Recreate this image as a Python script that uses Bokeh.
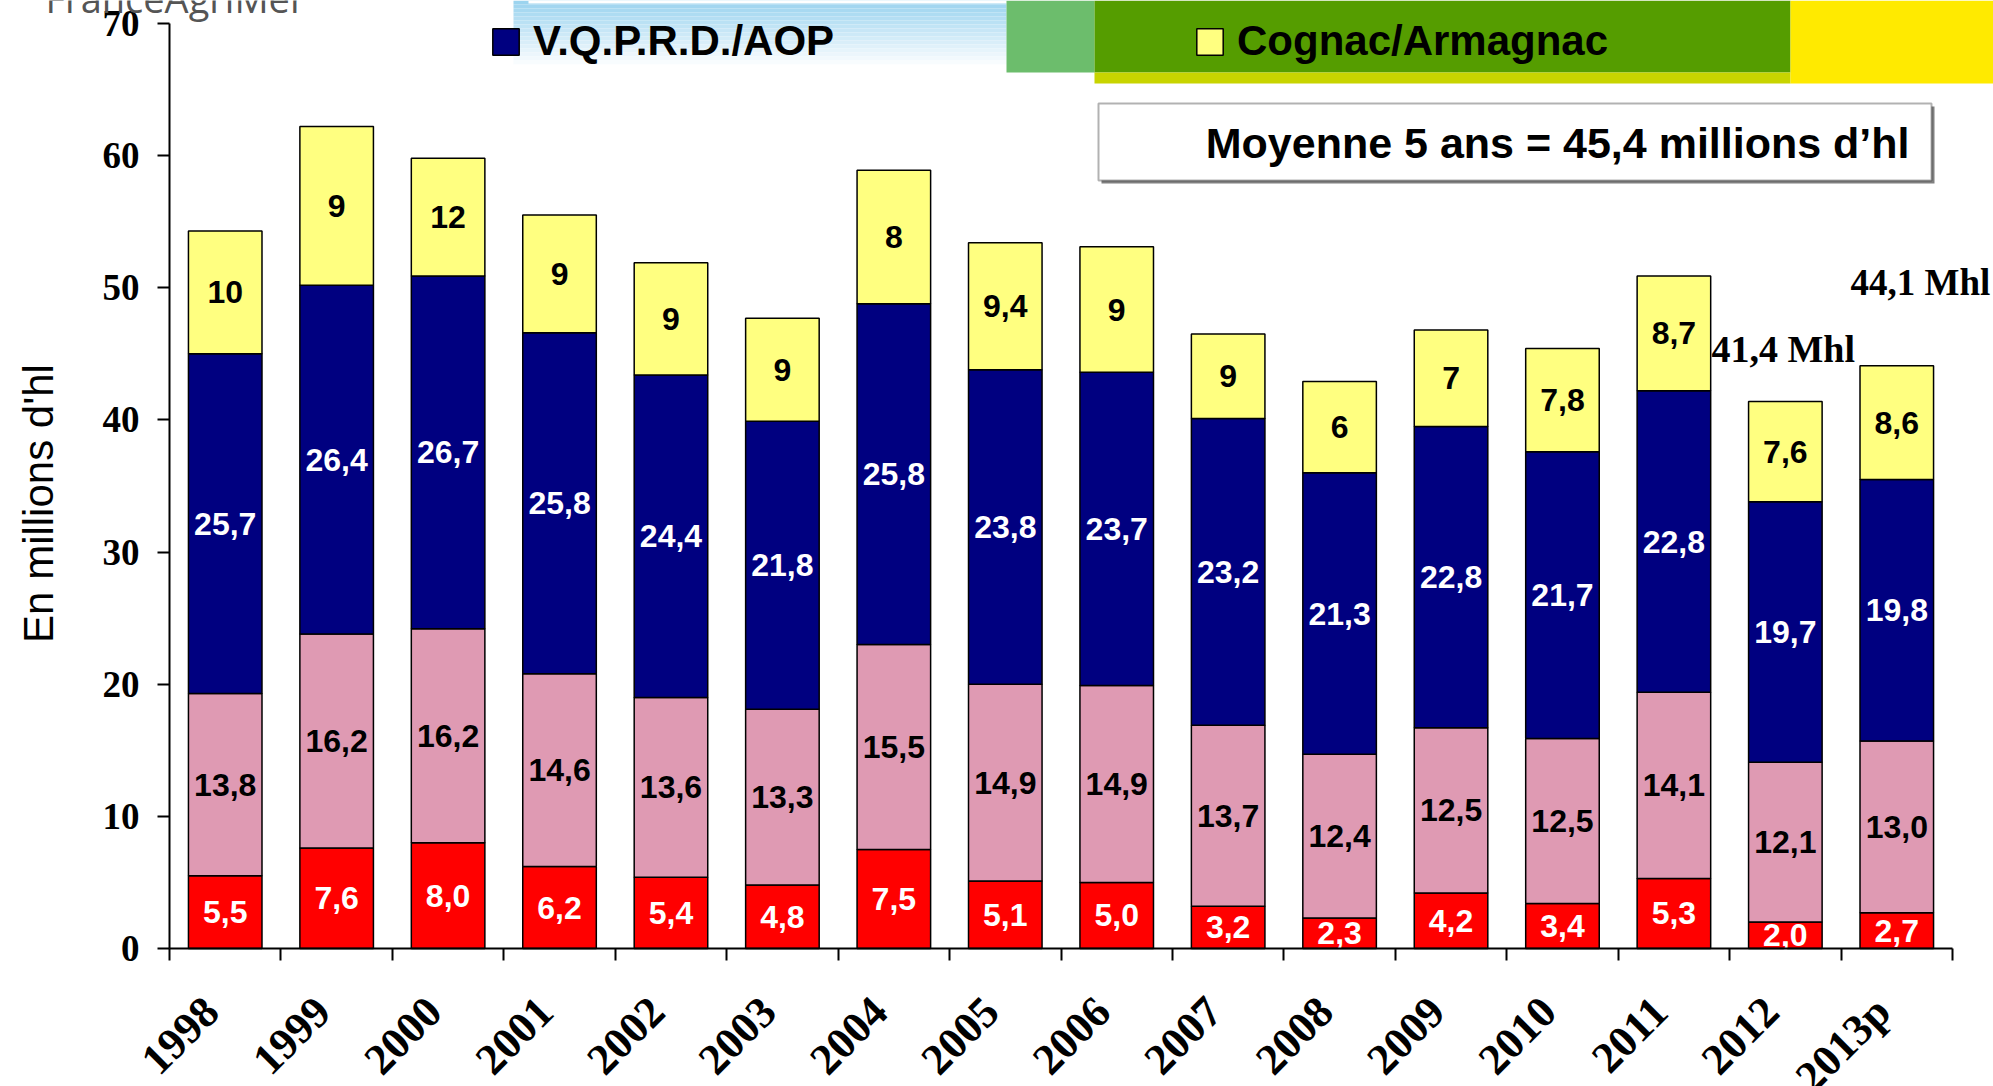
import numpy as np
from bokeh.plotting import figure
from bokeh.models import (ColumnDataSource, Range1d, FixedTicker, Legend, LegendItem,
                          Label, BoxAnnotation)
from bokeh.embed import file_html
from bokeh.resources import INLINE
from bokeh.core.properties import value

# ---------------- data (millions d'hl) ----------------
years = ["1998", "1999", "2000", "2001", "2002", "2003", "2004", "2005",
         "2006", "2007", "2008", "2009", "2010", "2011", "2012", "2013p"]
vins_sans_ig = [5.5, 7.6, 8.0, 6.2, 5.4, 4.8, 7.5, 5.1, 5.0, 3.2, 2.3, 4.2, 3.4, 5.3, 2.0, 2.7]
vins_de_pays = [13.8, 16.2, 16.2, 14.6, 13.6, 13.3, 15.5, 14.9, 14.9, 13.7, 12.4, 12.5, 12.5, 14.1, 12.1, 13.0]
vqprd_aop = [25.7, 26.4, 26.7, 25.8, 24.4, 21.8, 25.8, 23.8, 23.7, 23.2, 21.3, 22.8, 21.7, 22.8, 19.7, 19.8]
cognac_armagnac = [9.3, 12.0, 8.9, 8.9, 8.5, 7.8, 10.1, 9.6, 9.5, 6.4, 6.9, 7.3, 7.8, 8.7, 7.6, 8.6]
cognac_labels = ["10", "9", "12", "9", "9", "9", "8", "9,4", "9", "9", "6", "7", "7,8", "8,7", "7,6", "8,6"]
y_ticks = [0, 10, 20, 30, 40, 50, 60, 70]
total_2012 = "41,4 Mhl"
total_2013 = "44,1 Mhl"
moyenne = "Moyenne 5 ans = 45,4 millions d\u2019hl"
y_title = "En millions d'hl"

# ---------------- layout (canvas pixels) ----------------
W, H = 1993, 1086                 # canvas size
AX_L, AX_R, AX_T, AX_B = 169, 1952, 23, 948   # where the axes sit on the canvas
N = len(years)
YMAX = 70
PX_X = (AX_R - AX_L) / N
PX_Y = (AX_B - AX_T) / YMAX


def ux(px):
    return (px - AX_L) / PX_X


def vy(py):
    return (AX_B - py) / PX_Y


def fmt(v):
    return f"{v:.1f}".replace(".", ",")


red = np.array(vins_sans_ig)
pink = np.array(vins_de_pays)
navy = np.array(vqprd_aop)
yel = np.array(cognac_armagnac)
b1 = red
b2 = b1 + pink
b3 = b2 + navy
b4 = b3 + yel

src = ColumnDataSource(dict(
    x=np.arange(N) + 0.5,
    year=years,
    b0=np.zeros(N), b1=b1, b2=b2, b3=b3, b4=b4,
    m1=b1 / 2, m2=(b1 + b2) / 2, m3=(b2 + b3) / 2, m4=(b3 + b4) / 2,
    l1=[fmt(v) for v in vins_sans_ig],
    l2=[fmt(v) for v in vins_de_pays],
    l3=[fmt(v) for v in vqprd_aop],
    l4=cognac_labels,
))

# the plot frame covers the whole canvas; axes are pinned at x=0 / y=0
p = figure(width=W, height=H,
           x_range=Range1d(ux(0), ux(W)), y_range=Range1d(vy(H), vy(0)),
           output_backend="svg", toolbar_location=None,
           min_border_left=0, min_border_right=0, min_border_top=0, min_border_bottom=0)
p.background_fill_color = "white"
p.border_fill_color = "white"
p.outline_line_color = None
p.xgrid.visible = False
p.ygrid.visible = False

# ---------------- decorative banner at the top ----------------
top_c = np.array([0x9c, 0xd4, 0xef])
bot_c = np.array([0xff, 0xff, 0xff])
edges = np.linspace(0, 68, 18)
for i in range(len(edges) - 1):
    t = i / (len(edges) - 2)
    c = (top_c + (bot_c - top_c) * t).astype(int)
    p.add_layout(BoxAnnotation(left=ux(513), right=ux(1006), top=vy(edges[i]), bottom=vy(edges[i + 1]),
                               fill_color="#%02x%02x%02x" % tuple(c), fill_alpha=1, line_color=None,
                               level="underlay"))
p.add_layout(BoxAnnotation(left=ux(528), right=ux(1146), top=vy(0), bottom=vy(3),
                           fill_color="white", fill_alpha=1, line_color=None, level="underlay"))
p.add_layout(BoxAnnotation(left=ux(1006), right=ux(1094), top=vy(0), bottom=vy(72),
                           fill_color="#6cbd6c", fill_alpha=1, line_color=None, level="underlay"))
p.add_layout(BoxAnnotation(left=ux(1094), right=ux(1790), top=vy(0), bottom=vy(72),
                           fill_color="#559d00", fill_alpha=1, line_color=None, level="underlay"))
p.add_layout(BoxAnnotation(left=ux(1094), right=ux(1790), top=vy(72), bottom=vy(83),
                           fill_color="#c8d400", fill_alpha=1, line_color=None, level="underlay"))
p.add_layout(BoxAnnotation(left=ux(1790), right=ux(W), top=vy(0), bottom=vy(83),
                           fill_color="#ffea00", fill_alpha=1, line_color=None, level="underlay"))

p.add_layout(Label(x=ux(45), y=vy(-3), text="FranceAgriMer", text_font="Open Sans",
                   text_font_size="38px", text_color="#555555", text_baseline="middle"))

# ---------------- stacked bars ----------------
bar_kw = dict(x="x", width=0.66, source=src, line_color="black", line_width=1.5)
r1 = p.vbar(bottom="b0", top="b1", fill_color="#ff0000", **bar_kw)
r2 = p.vbar(bottom="b1", top="b2", fill_color="#df9ab3", **bar_kw)
r3 = p.vbar(bottom="b2", top="b3", fill_color="#000080", **bar_kw)
r4 = p.vbar(bottom="b3", top="b4", fill_color="#ffff80", **bar_kw)

txt_kw = dict(x="x", source=src, text_font=value("Liberation Sans"), text_font_style="bold",
              text_font_size="32px", text_align="center", text_baseline="middle")
p.text(y="m1", text="l1", text_color="white", **txt_kw)
p.text(y="m2", text="l2", text_color="black", **txt_kw)
p.text(y="m3", text="l3", text_color="white", **txt_kw)
p.text(y="m4", text="l4", text_color="black", **txt_kw)

# ---------------- legends ----------------
leg_kw = dict(orientation="horizontal", glyph_width=33, glyph_height=33, label_height=33,
              label_standoff=11, padding=0, margin=0, border_line_color=None,
              background_fill_alpha=0, label_text_font="Liberation Sans",
              label_text_color="black",
              label_text_font_style="bold", label_text_font_size="42px")
p.add_layout(Legend(items=[LegendItem(label="V.Q.P.R.D./AOP", renderers=[r3])],
                    location=(489, H - 65), **leg_kw))
p.add_layout(Legend(items=[LegendItem(label="Cognac/Armagnac", renderers=[r4])],
                    location=(1193, H - 65), **leg_kw))

# ---------------- average box ----------------
p.add_layout(BoxAnnotation(left=ux(1101), right=ux(1934), top=vy(106), bottom=vy(183),
                           fill_color="#808080", fill_alpha=1, line_color=None))
p.add_layout(BoxAnnotation(left=ux(1098), right=ux(1931), top=vy(103), bottom=vy(180),
                           fill_color="white", fill_alpha=1, line_color="black", line_width=2))
p.add_layout(Label(x=ux(1909), y=vy(142), text=moyenne, text_font="Liberation Sans",
                   text_font_style="bold", text_font_size="43px", text_align="right",
                   text_color="black", text_baseline="middle"))

# ---------------- totals ----------------
p.add_layout(Label(x=ux(1711), y=vy(348), text=total_2012, text_font="Liberation Serif",
                   text_font_style="bold", text_font_size="38px", text_color="black",
                   text_baseline="middle"))
p.add_layout(Label(x=ux(1850), y=vy(282), text=total_2013, text_font="Liberation Serif",
                   text_font_style="bold", text_font_size="37px", text_color="black",
                   text_baseline="middle"))

# ---------------- y title ----------------
p.add_layout(Label(x=ux(38), y=vy(503), text=y_title, angle=np.pi / 2, text_font="Liberation Sans",
                   text_font_size="42px", text_color="black", text_align="center",
                   text_baseline="middle"))

# ---------------- axes ----------------
yax = p.yaxis[0]
yax.fixed_location = 0
yax.bounds = (0, YMAX)
yax.ticker = FixedTicker(ticks=y_ticks, minor_ticks=[])
yax.major_label_text_font = "Liberation Serif"
yax.major_label_text_font_style = "bold"
yax.major_label_text_font_size = "37px"
yax.major_label_text_color = "black"
yax.major_tick_out = 12
yax.major_tick_in = 0
yax.major_tick_line_width = 2
yax.major_tick_line_color = "black"
yax.axis_line_width = 2
yax.axis_line_color = "black"
yax.major_label_standoff = 18

label_pos = [i + 0.375 for i in range(N)]
xax = p.xaxis[0]
xax.fixed_location = 0
xax.bounds = (0, N)
xax.ticker = FixedTicker(ticks=label_pos, minor_ticks=list(range(N + 1)))
xax.major_label_overrides = {pos: y for pos, y in zip(label_pos, years)}
xax.major_tick_line_color = None
xax.major_tick_out = 12
xax.major_tick_in = 0
xax.minor_tick_out = 12
xax.minor_tick_in = 0
xax.minor_tick_line_color = "black"
xax.minor_tick_line_width = 2
xax.axis_line_width = 2
xax.axis_line_color = "black"
xax.major_label_orientation = np.pi / 4
xax.major_label_text_font = "Liberation Serif"
xax.major_label_text_font_style = "bold"
xax.major_label_text_font_size = "44px"
xax.major_label_text_color = "black"
xax.major_label_standoff = 44

open("out.html", "w").write(file_html(p, INLINE))
